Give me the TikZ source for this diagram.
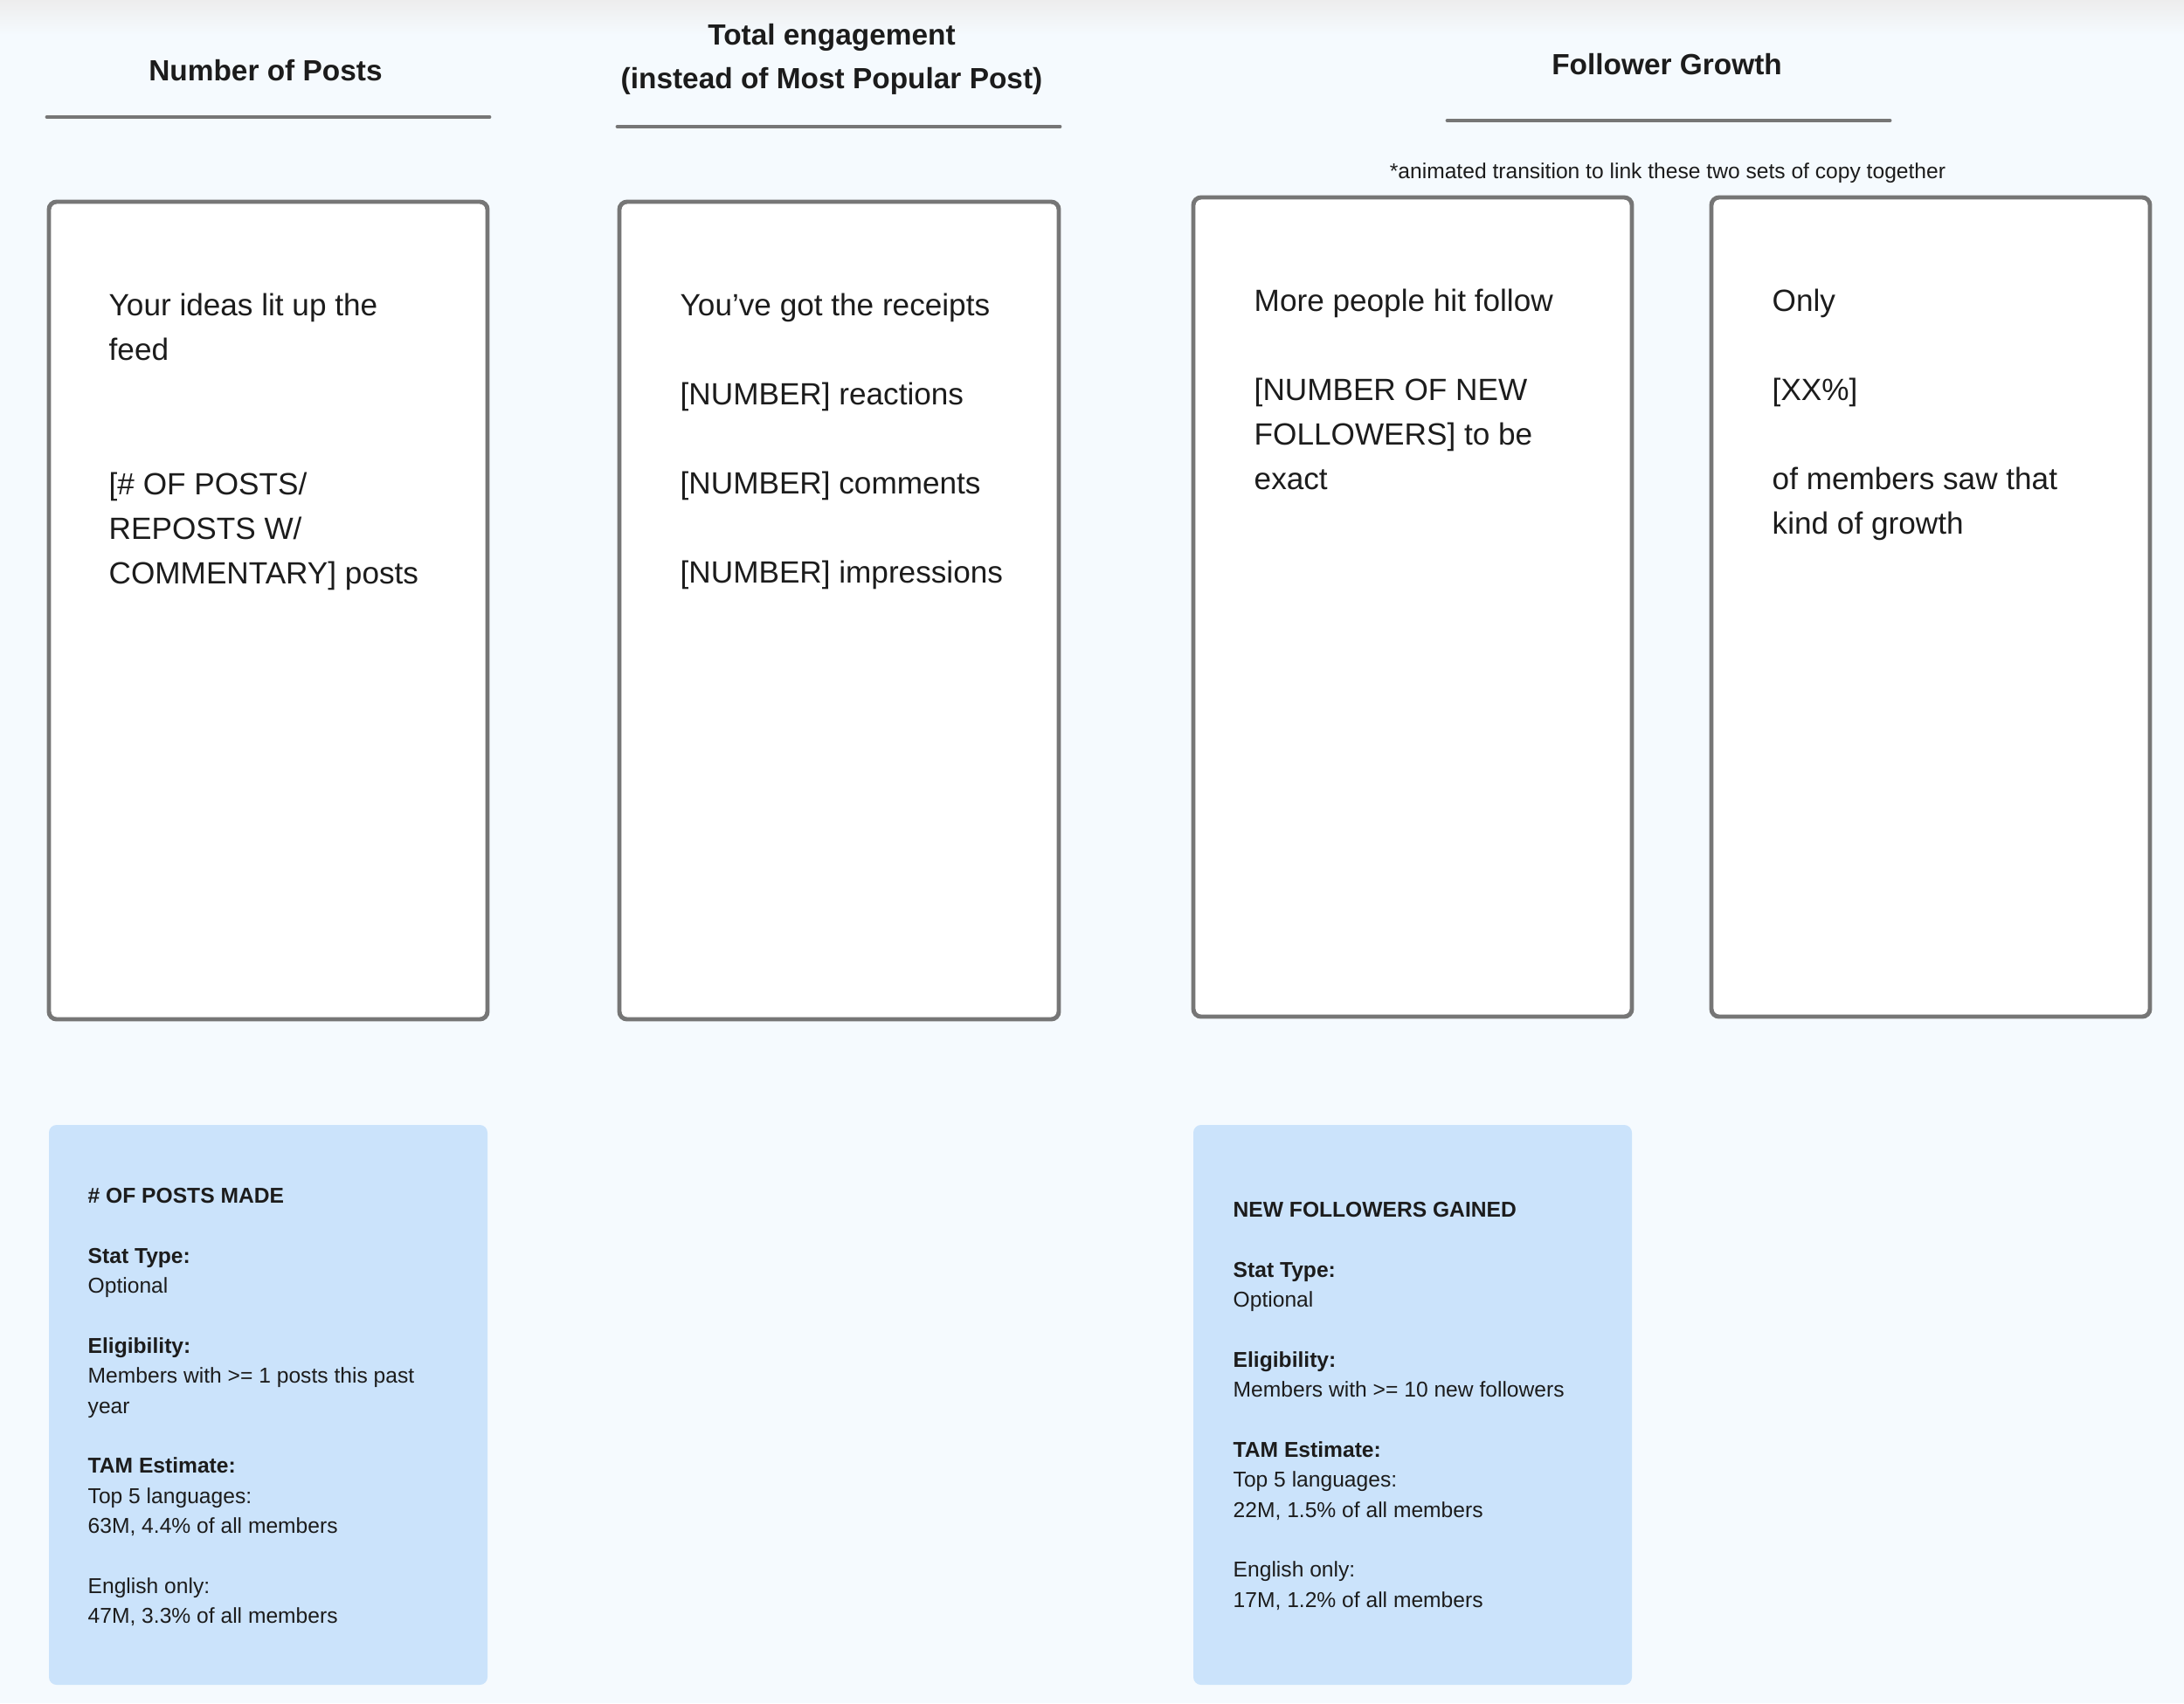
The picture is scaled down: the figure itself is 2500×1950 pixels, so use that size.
\documentclass[tikz,border=0pt]{standalone}
\usepackage{fontspec}
\setmainfont{Liberation Sans}
\definecolor{pagebg}{HTML}{F5FAFE}
\definecolor{cardgray}{HTML}{767676}
\definecolor{statblue}{HTML}{CBE3FB}
\definecolor{ink}{HTML}{1C1C1C}
\begin{document}
\begin{tikzpicture}[x=0.01cm,y=-0.01cm,
    heading/.style={text=ink,inner sep=0,align=center,font=\bfseries\fontsize{9.5pt}{14.2pt}\selectfont},
    rule/.style={line width=1.4pt,cardgray,line cap=round},
    card/.style={line width=1.4pt,draw=cardgray,fill=white,rounded corners=2.5pt},
    statcard/.style={fill=statblue,rounded corners=2.5pt},
    copy/.style={text=ink,inner sep=0,anchor=north west,align=left,font=\fontsize{10pt}{14.5pt}\selectfont},
    stat/.style={text=ink,inner sep=0,anchor=north west,align=left,font=\fontsize{7pt}{9.76pt}\selectfont}]
               % page
               \fill [pagebg] (0,0) rectangle (2500,1950);
               \shade [top color=black!7,bottom color=pagebg] (0,0) rectangle (2500,40);
               \useasboundingbox (0,0) rectangle (2500,1950);
               % headings
               \node [heading,anchor=base] (postshead) at (304,92) {Number of Posts};
               \draw [rule] (54,134) -- (560,134);
               \node [heading,anchor=north] (engagehead) at (952,27) {Total engagement\\(instead of Most Popular Post)};
               \draw [rule] (707,145) -- (1213,145);
               \node [heading,anchor=base] (followhead) at (1908,85) {Follower Growth};
               \draw [rule] (1657,138) -- (2163,138);
               \node [text=ink,inner sep=0,anchor=base,font=\fontsize{7pt}{8.5pt}\selectfont] (note) at (1909,204) {*animated transition to link these two sets of copy together};
               % posts card
               \draw [card] (56,231) rectangle (558,1167);
               \node [copy] (postscopy) at (124,335) {Your ideas lit up the\\feed\\[29.3pt][\# OF POSTS/\\REPOSTS W/\\COMMENTARY] posts};
               % engagement card
               \draw [card] (709,231) rectangle (1212,1167);
               \node [copy] (engagecopy) at (778,335) {You’ve got the receipts\\[14.5pt][NUMBER] reactions\\[14.5pt][NUMBER] comments\\[14.5pt][NUMBER] impressions};
               % follower cards
               \draw [card] (1366,226) rectangle (1868,1164);
               \node [copy] (followcopy) at (1435,330) {More people hit follow\\[14.5pt][NUMBER OF NEW\\FOLLOWERS] to be\\exact};
               \draw [card] (1959,226) rectangle (2461,1164);
               \node [copy] (sharecopy) at (2028,330) {Only\\[14.5pt][XX\%]\\[14.5pt]of members saw that\\kind of growth};
               % stat cards
               \fill [statcard] (56,1288) rectangle (558,1929);
               \node [stat] (poststat) at (100,1360) {\textbf{\# OF POSTS MADE}\\[9.76pt]\textbf{Stat Type:}\\Optional\\[9.76pt]\textbf{Eligibility:}\\Members with >= 1 posts this past\\year\\[9.76pt]\textbf{TAM Estimate:}\\Top 5 languages:\\63M, 4.4\% of all members\\[9.76pt]English only:\\47M, 3.3\% of all members};
               \fill [statcard] (1366,1288) rectangle (1868,1929);
               \node [stat] (followstat) at (1411,1376) {\textbf{NEW FOLLOWERS GAINED}\\[9.76pt]\textbf{Stat Type:}\\Optional\\[9.76pt]\textbf{Eligibility:}\\Members with >= 10 new followers\\[9.76pt]\textbf{TAM Estimate:}\\Top 5 languages:\\22M, 1.5\% of all members\\[9.76pt]English only:\\17M, 1.2\% of all members};
\end{tikzpicture}
\end{document}
